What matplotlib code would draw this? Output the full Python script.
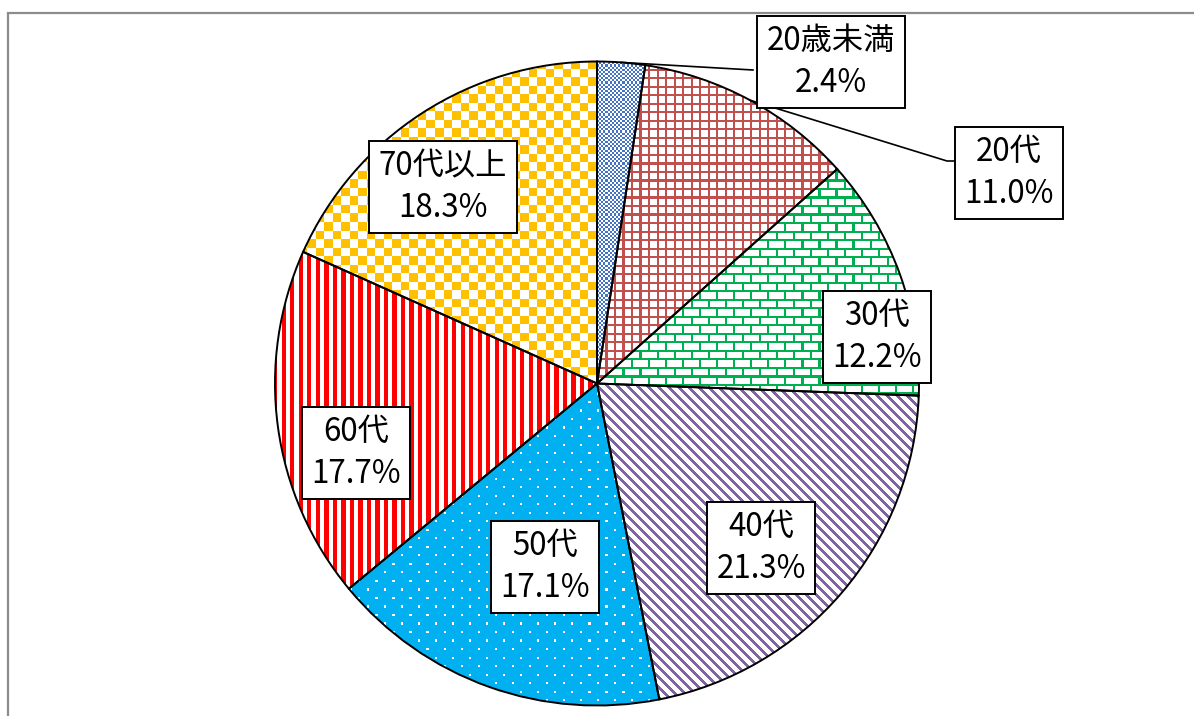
import numpy as np
import matplotlib
matplotlib.use("Agg")
import matplotlib.pyplot as plt
from matplotlib.patches import Rectangle

# data
categories = ["20歳未満", "20代", "30代", "40代", "50代", "60代", "70代以上"]
shares = [2.4, 11.0, 12.2, 21.3, 17.1, 17.7, 18.3]

W, H = 1194, 716
CX, CY, R = 597, 383.5, 322          # pie centre / radius in pixels (y down)
SCALE = 2.13                         # size of one pattern "bit" in pixels

# label box centres (pixels, y down)
label_pos = [(831, 62), (1009, 173), (877, 337), (761, 548),
             (545, 567), (356, 453), (443, 187)]

FONT = ["Liberation Sans Narrow", "Noto Sans CJK JP", "DejaVu Sans"]


def Y(y):
    return H - y


# 8x8 style fill patterns, True = foreground colour
xx, yy = np.meshgrid(np.arange(W), np.arange(H))
c = (xx / SCALE).astype(int)
r = (yy / SCALE).astype(int)

masks = [
    (r + c) % 2 == 0,                                    # fine checker
    (r % 4 == 0) | (c % 4 == 0),                         # small grid
    (r % 4 == 0) | ((r % 8 < 4) & (c % 8 == 0))
    | ((r % 8 >= 4) & (c % 8 == 4)),                     # horizontal brick
    (xx - yy) % 10 < 4,                                  # downward diagonal
    ~(((r % 8 == 0) & (c % 8 == 0)) | ((r % 8 == 4) & (c % 8 == 4))),  # dots
    c % 4 < 2,                                           # vertical stripes
    ((r // 4) + (c // 4)) % 2 == 0,                      # checker board
]
colors = ["#4472C4", "#C0504D", "#00B050", "#8064A2", "#00B0F0", "#FF0000", "#FFC000"]


def pattern(mask, color):
    rgb = np.array(matplotlib.colors.to_rgb(color))
    img = np.ones((H, W, 3))
    img[mask] = rgb
    return img


fig = plt.figure(figsize=(W / 100, H / 100), dpi=100)
ax = fig.add_axes([0, 0, 1, 1])

wedges, _ = ax.pie(shares, startangle=90, counterclock=False,
                   center=(CX, Y(CY)), radius=R,
                   wedgeprops=dict(facecolor="none", edgecolor="black",
                                   linewidth=1.4, zorder=3))

for w, m, col in zip(wedges, masks, colors):
    im = ax.imshow(pattern(m, col), extent=(0, W, 0, H), origin="upper",
                   interpolation="nearest", zorder=1)
    im.set_clip_path(w)

ax.set_xlim(0, W)
ax.set_ylim(0, H)
ax.set_aspect("equal")
ax.axis("off")

# chart area border
ax.add_patch(Rectangle((8, -20), W + 20, Y(13) + 20, fill=False,
                       edgecolor="#8c8c8c", linewidth=1.6, zorder=0))

# leader lines for the two outside labels
def edge_point(w):
    th = np.deg2rad((w.theta1 + w.theta2) / 2)
    return CX + R * np.cos(th), Y(CY) + R * np.sin(th)


x0, y0 = edge_point(wedges[0])
ax.plot([x0, 753], [y0, Y(70)], color="black", lw=1.2, zorder=4)
x1, y1 = edge_point(wedges[1])
ax.plot([x1, 947, 958], [y1, Y(161), Y(161)], color="black", lw=1.2, zorder=4)

for cat, val, (px, py) in zip(categories, shares, label_pos):
    ax.text(px, Y(py), f"{cat}\n{val:.1f}%", ha="center", va="center",
            multialignment="center", fontsize=22.5, family=FONT,
            linespacing=1.4, zorder=5,
            bbox=dict(boxstyle="square,pad=0.3", facecolor="white",
                      edgecolor="black", linewidth=1.4))

fig.savefig("out.png", dpi=100)
